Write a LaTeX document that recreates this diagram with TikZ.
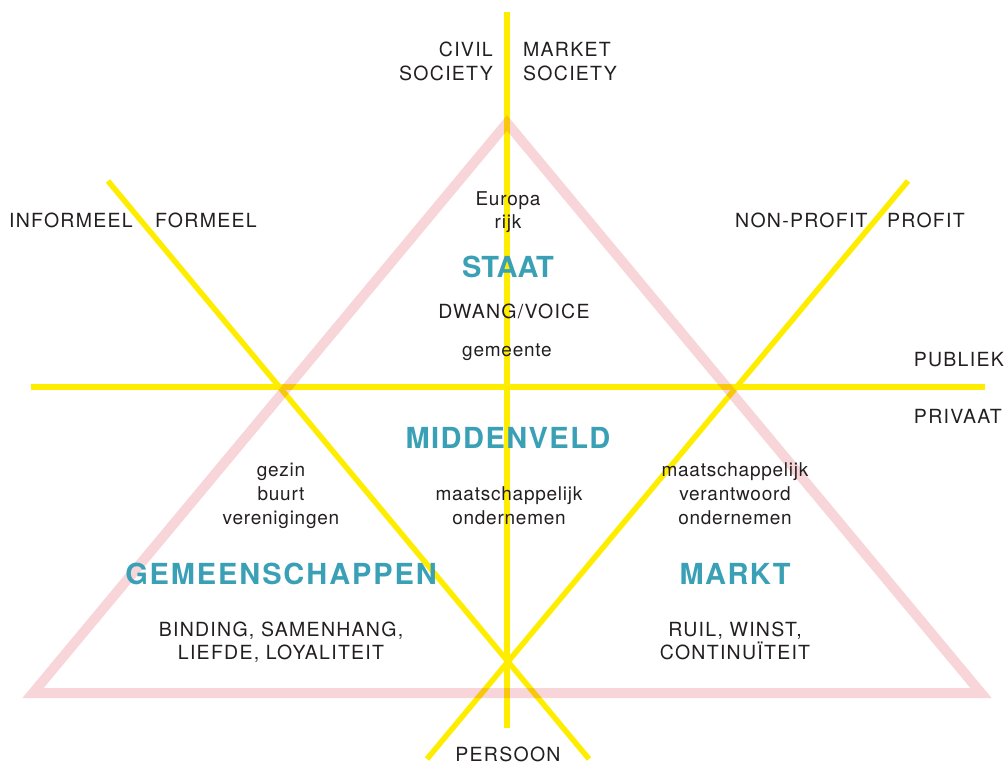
\documentclass[tikz,border=0pt]{standalone}
\usepackage{fontspec}
\setmainfont{TeX Gyre Heros}
\newfontfamily\bodyfont[LetterSpace=4]{TeX Gyre Heros}
\newfontfamily\capsfont[LetterSpace=6.5]{TeX Gyre Heros}
\newfontfamily\headfont[LetterSpace=5]{TeX Gyre Heros}
\newfontfamily\headwidefont[LetterSpace=6.5]{TeX Gyre Heros}
\newfontfamily\headtightfont[LetterSpace=0]{TeX Gyre Heros}
\definecolor{ylw}{RGB}{255,237,0}
\definecolor{pnk}{RGB}{220,45,60}
\definecolor{headteal}{RGB}{58,160,181}
\definecolor{ink}{RGB}{35,31,32}
\begin{document}
\begin{tikzpicture}[x=1pt,y=-1pt,
  yline/.style={draw=ylw,line width=5.5pt},
  tri/.style={draw=pnk,draw opacity=0.2,line width=10pt,line join=miter},
  lbl/.style={inner sep=0pt,anchor=base,text=ink,font=\bodyfont\fontsize{19}{19}\selectfont},
  caplbl/.style={inner sep=0pt,anchor=base,text=ink,font=\capsfont\fontsize{19.5}{19.5}\selectfont},
  head/.style={inner sep=0pt,anchor=base,text=headteal,font=\headfont\bfseries\fontsize{29}{29}\selectfont},
]
\useasboundingbox (0,0) rectangle (1007,764);
% yellow axes
\coordinate (vt) at (507,12);  \coordinate (vb) at (507,728);
\coordinate (hl) at (31,387);  \coordinate (hr) at (985,387);
\coordinate (d1t) at (108,181); \coordinate (d1b) at (589,759);
\coordinate (d2t) at (908,181); \coordinate (d2b) at (427,759);
\draw[yline] (vt) -- (vb);
\draw[yline] (hl) -- (hr);
\draw[yline] (d1t) -- (d1b);
\draw[yline] (d2t) -- (d2b);
% pink triangle
\coordinate (A) at (507,123); \coordinate (B) at (33,693); \coordinate (C) at (981,693);
\draw[tri] (A) -- (B) -- (C) -- cycle;
% labels
\node[caplbl,anchor=base east] (civil1) at (493,56.5) {CIVIL};
\node[caplbl,anchor=base east] (civil2) at (493,80.5) {SOCIETY};
\node[caplbl,anchor=base west] (market1) at (523,56.5) {MARKET};
\node[caplbl,anchor=base west] (market2) at (523,80.5) {SOCIETY};
\node[caplbl,anchor=base west] (informeel) at (9,227.5) {INFORMEEL};
\node[caplbl,anchor=base west] (formeel) at (155,227.5) {FORMEEL};
\node[caplbl,anchor=base west] (nonprofit) at (735,227.5) {NON-PROFIT};
\node[caplbl,anchor=base west] (profit) at (887,227.5) {PROFIT};
\node[lbl] (europa) at (508,205) {Europa};
\node[lbl] (rijk) at (508,228.5) {rijk};
\node[head,font=\headtightfont\bfseries\fontsize{29}{29}\selectfont] (staat) at (508,277.5) {STAAT};
\node[caplbl] (dwang) at (514,318.5) {DWANG/VOICE};
\node[lbl] (gemeente) at (507,356.5) {gemeente};
\node[caplbl,anchor=base east] (publiek) at (1004,366.5) {PUBLIEK};
\node[caplbl,anchor=base east] (privaat) at (1002,423) {PRIVAAT};
\node[head] (middenveld) at (508,448) {MIDDENVELD};
\node[lbl] (gezin) at (281,476) {gezin};
\node[lbl] (buurt) at (281,500) {buurt};
\node[lbl] (verenigingen) at (281,524) {verenigingen};
\node[lbl] (mo1) at (509,500) {maatschappelijk};
\node[lbl] (mo2) at (509,524) {ondernemen};
\node[lbl] (mvo1) at (735,476) {maatschappelijk};
\node[lbl] (mvo2) at (735,500) {verantwoord};
\node[lbl] (mvo3) at (735,524) {ondernemen};
\node[head,font=\headwidefont\bfseries\fontsize{29}{29}\selectfont] (gemeenschappen) at (281,584) {GEMEENSCHAPPEN};
\node[head] (markt) at (735,584) {MARKT};
\node[caplbl] (binding) at (281,636) {BINDING, SAMENHANG,};
\node[caplbl] (liefde) at (281,659.5) {LIEFDE, LOYALITEIT};
\node[caplbl] (ruil) at (735,636) {RUIL, WINST,};
\node[caplbl] (continuiteit) at (735,659.5) {CONTINUÏTEIT};
\node[caplbl] (persoon) at (508,761.5) {PERSOON};
\end{tikzpicture}
\end{document}
